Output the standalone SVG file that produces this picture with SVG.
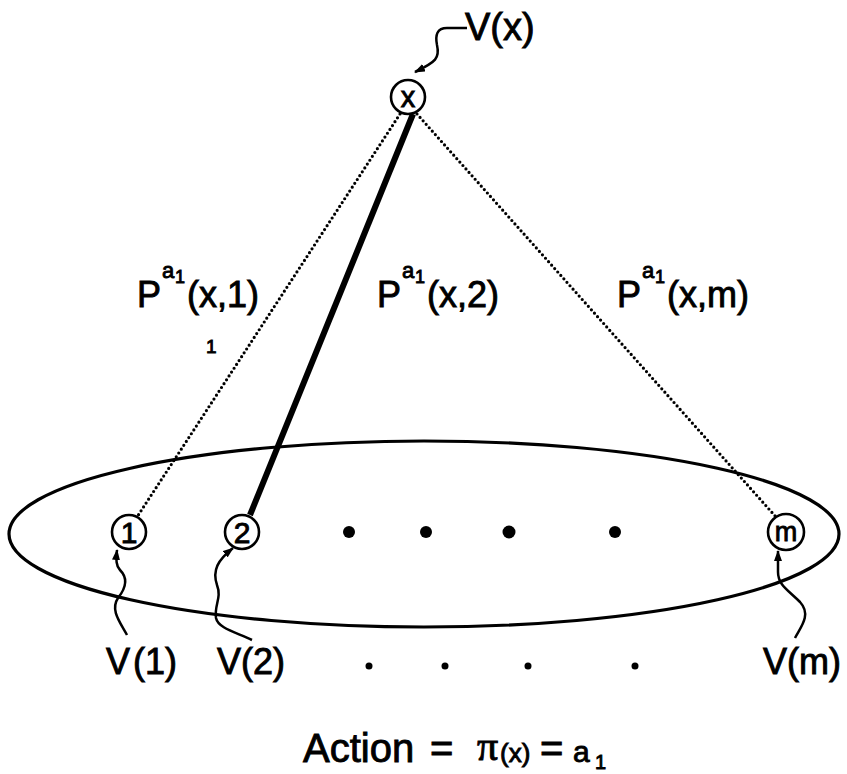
<svg xmlns="http://www.w3.org/2000/svg" width="847" height="774" viewBox="0 0 847 774">
<style>
.t{font-family:"Liberation Sans",Arial,sans-serif;fill:#000;stroke:#000;stroke-width:0.9;}
.node circle{fill:#fff;stroke:#000;stroke-width:2.6;}
.dot{stroke:#000;stroke-width:3.2;stroke-dasharray:0 4.6;stroke-linecap:round;fill:none;}
.sq{fill:none;stroke:#000;stroke-width:2.5;}
</style>
<defs>
<marker id="ah" viewBox="0 0 11 8" refX="10" refY="4" markerWidth="11" markerHeight="8" markerUnits="userSpaceOnUse" orient="auto">
<path d="M0,0 L11,4 L0,8 Z" fill="#000"/>
</marker>
</defs>
<rect width="847" height="774" fill="#fff"/>
<ellipse cx="424" cy="534" rx="415" ry="93" fill="none" stroke="#000" stroke-width="3.2"/>
<g id="connectors">
<line class="dot" x1="400" y1="114" x2="137" y2="517"/>
<line class="dot" x1="417" y1="114" x2="776" y2="517"/>
<line x1="413" y1="114" x2="250" y2="515" stroke="#000" stroke-width="6"/>
<path class="sq" d="M467,28 L447,28 C437,28 435,35 437,45 C440,58 436,62 415,72" marker-end="url(#ah)"/>
<path class="sq" d="M127,635 C120,622 110,610 118,598 C126,588 128,578 120,570 C116,566 116,560 117,550" marker-end="url(#ah)"/>
<path class="sq" d="M252,640 C235,632 218,628 216,618 C214,605 222,598 217,585 C212,570 218,560 233,548" marker-end="url(#ah)"/>
<path class="sq" d="M795,638 C800,628 812,615 800,602 C788,590 778,585 778,572 L778,551" marker-end="url(#ah)"/>
</g>
<g id="node-x" class="node"><circle cx="408" cy="97" r="17"/><text class="t" x="408" y="107" font-size="29" text-anchor="middle">x</text></g>
<g id="node-1" class="node"><circle cx="129" cy="532" r="17"/><text class="t" x="129" y="543" font-size="30" text-anchor="middle">1</text></g>
<g id="node-2" class="node"><circle cx="242" cy="532" r="17"/><text class="t" x="242" y="543" font-size="30" text-anchor="middle">2</text></g>
<g id="node-m" class="node"><circle cx="786" cy="532" r="18"/><text class="t" x="786" y="541" font-size="27" text-anchor="middle">m</text></g>
<g id="ellipsis-dots">
<circle cx="349" cy="532" r="6"/><circle cx="426" cy="532" r="6"/><circle cx="509" cy="532" r="6.5"/><circle cx="615" cy="532" r="6"/>
<circle cx="369" cy="666" r="3.5"/><circle cx="445" cy="666" r="3.5"/><circle cx="528" cy="666" r="3.5"/><circle cx="635" cy="666" r="3.5"/>
</g>
<g id="labels">
<text class="t" x="465" y="40" font-size="38">V(x)</text>
<text class="t" font-size="36"><tspan x="137" y="307">P</tspan><tspan x="162" y="278" font-size="22">a</tspan><tspan x="175" y="283" font-size="18">1</tspan><tspan x="187" y="307">(x,1)</tspan></text>
<text class="t" font-size="36"><tspan x="377" y="307">P</tspan><tspan x="402" y="278" font-size="22">a</tspan><tspan x="415" y="283" font-size="18">1</tspan><tspan x="427" y="307">(x,2)</tspan></text>
<text class="t" font-size="36"><tspan x="617" y="307">P</tspan><tspan x="642" y="278" font-size="22">a</tspan><tspan x="655" y="283" font-size="18">1</tspan><tspan x="667" y="307">(x,m)</tspan></text>
<text class="t" x="206" y="353" font-size="19">1</text>
<text class="t" font-size="36"><tspan x="106" y="674">V</tspan><tspan x="133" y="674">(1)</tspan></text>
<text class="t" x="217" y="674" font-size="36">V(2)</text>
<text class="t" x="763" y="674" font-size="36">V(m)</text>
<text class="t" font-size="40"><tspan x="303" y="762">Action</tspan><tspan x="430" y="762">=</tspan><tspan x="477" y="760" font-family="Liberation Serif,serif" font-size="42">π</tspan><tspan x="500" y="762" font-size="26">(x)</tspan><tspan x="540" y="762">=</tspan><tspan x="573" y="762" font-size="30">a</tspan><tspan x="595" y="769" font-size="20">1</tspan></text>
</g>
</svg>
